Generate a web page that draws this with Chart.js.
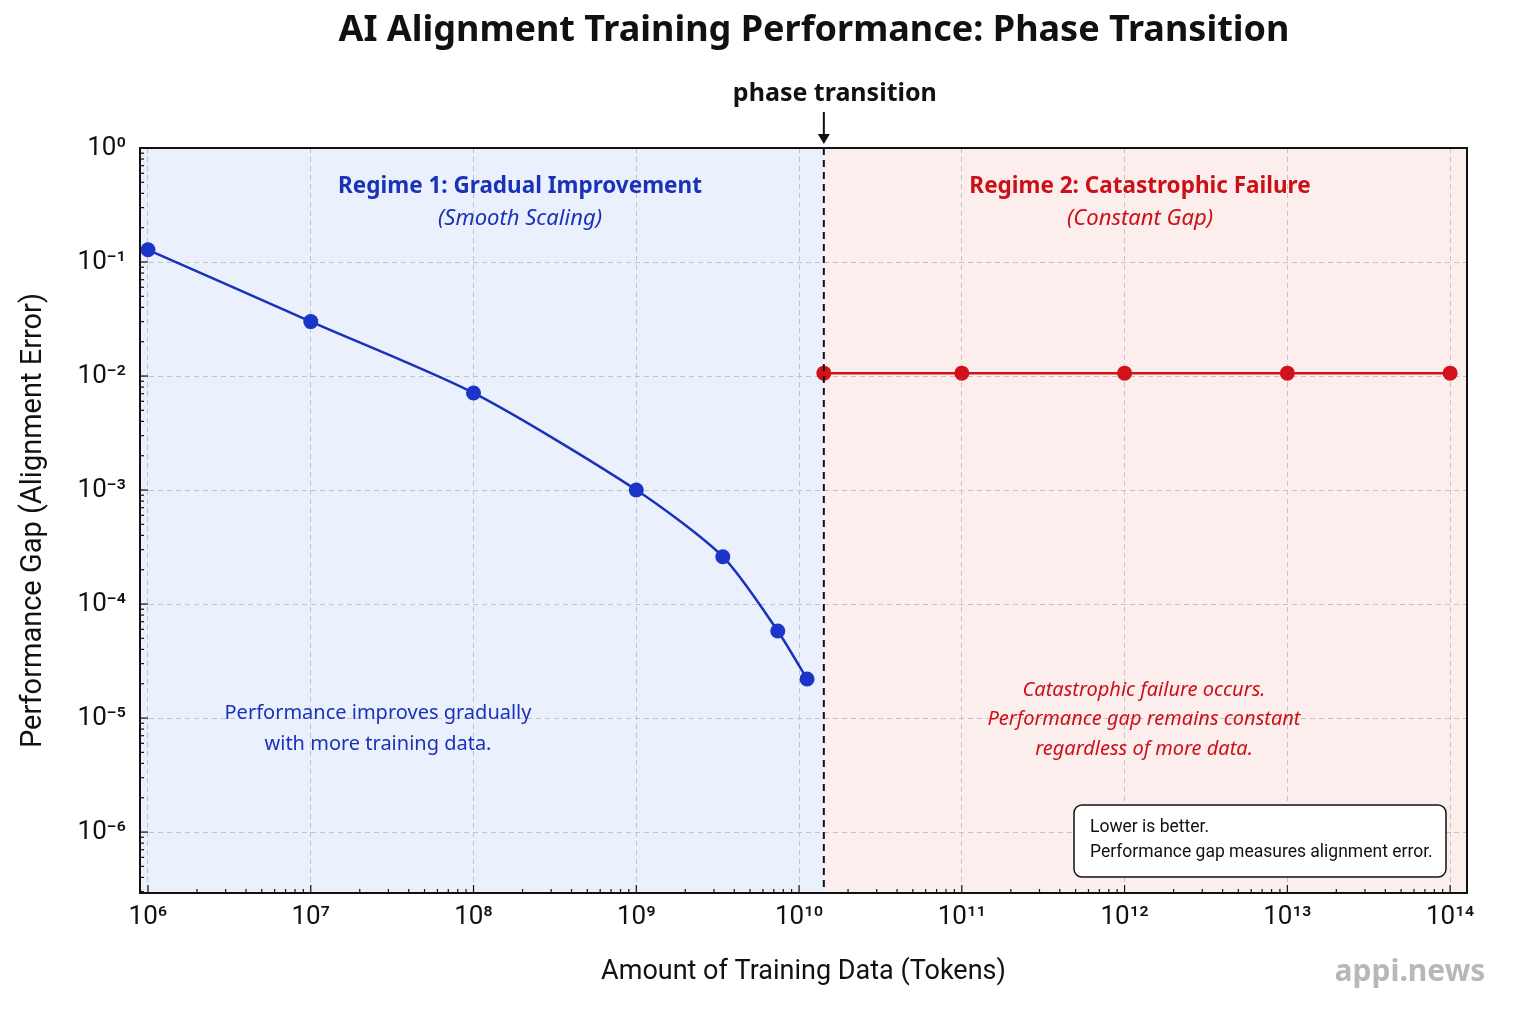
<!DOCTYPE html>
<html>
<head>
<meta charset="utf-8">
<title>AI Alignment Training Performance: Phase Transition</title>
<script src="https://cdn.jsdelivr.net/npm/chart.js@4.4.1/dist/chart.umd.min.js"></script>
<style>
    html, body { margin: 0; padding: 0; background: #ffffff; }
    #wrap { width: 1520px; height: 1013px; }
</style>
</head>
<body>
<div id="wrap"><canvas id="chart" width="1520" height="1013"></canvas></div>
<script>
// data
const regime1Tokens = [1e6, 1e7, 1e8, 1e9, 3.4e9, 7.4e9, 1.12e10];
const regime1Gap = [0.128, 0.030, 0.0071, 0.001, 2.6e-4, 5.8e-5, 2.2e-5];
const regime2Tokens = [1.42e10, 1e11, 1e12, 1e13, 1e14];
const regime2Gap = [0.0106, 0.0106, 0.0106, 0.0106, 0.0106];
const transitionTokens = 1.42e10;

const xTickValues = [1e6, 1e7, 1e8, 1e9, 1e10, 1e11, 1e12, 1e13, 1e14];
const yTickValues = [1e-6, 1e-5, 1e-4, 1e-3, 1e-2, 1e-1, 1e0];

const BLUE = '#1a32b8';
const RED = '#cc1017';
const FONT = 'Roboto, "Noto Sans", sans-serif';
const TEXT_FONT = '"Noto Sans", Roboto, sans-serif';

function superscript(n) {
    const digits = '⁰¹²³⁴⁵⁶⁷⁸⁹';
    return String(n).split('').map(c => c === '-' ? '⁻' : digits[+c]).join('');
}

function powerLabel(v) {
    return '10' + superscript(Math.round(Math.log10(v)));
}

// background regions, box border, inward ticks and annotations
const decorations = {
    id: 'decorations',
    beforeDraw(chart) {
        const { ctx, chartArea: a, scales: { x } } = chart;
        const tx = x.getPixelForValue(transitionTokens);
        ctx.save();
        ctx.fillStyle = '#eaf1fd';
        ctx.fillRect(a.left, a.top, tx - a.left, a.bottom - a.top);
        ctx.fillStyle = '#fdeeee';
        ctx.fillRect(tx, a.top, a.right - tx, a.bottom - a.top);
        ctx.restore();
    },
    afterDraw(chart) {
        const { ctx, chartArea: a, scales: { x, y } } = chart;
        const tx = x.getPixelForValue(transitionTokens);
        ctx.save();

        // transition line
        ctx.strokeStyle = '#111';
        ctx.lineWidth = 2;
        ctx.setLineDash([7, 5]);
        ctx.beginPath();
        ctx.moveTo(tx, a.top);
        ctx.lineTo(tx, a.bottom);
        ctx.stroke();
        ctx.setLineDash([]);

        // frame
        ctx.strokeStyle = '#111';
        ctx.lineWidth = 2;
        ctx.strokeRect(a.left, a.top, a.right - a.left, a.bottom - a.top);

        // inward log ticks
        ctx.lineWidth = 1.2;
        for (let e = 5; e <= 14; e++) {
            for (let m = 1; m <= 9; m++) {
                const v = m * Math.pow(10, e);
                if (v < x.min || v > x.max) continue;
                const px = x.getPixelForValue(v);
                const len = m === 1 ? 8 : 4;
                ctx.beginPath();
                ctx.moveTo(px, a.bottom);
                ctx.lineTo(px, a.bottom - len);
                ctx.stroke();
            }
        }
        for (let e = -7; e <= 0; e++) {
            for (let m = 1; m <= 9; m++) {
                const v = m * Math.pow(10, e);
                if (v < y.min || v > y.max) continue;
                const py = y.getPixelForValue(v);
                const len = m === 1 ? 8 : 4;
                ctx.beginPath();
                ctx.moveTo(a.left, py);
                ctx.lineTo(a.left + len, py);
                ctx.stroke();
            }
        }

        // main title
        ctx.fillStyle = '#111';
        ctx.textAlign = 'center';
        ctx.textBaseline = 'middle';
        ctx.font = 'bold 36px ' + TEXT_FONT;
        ctx.fillText('AI Alignment Training Performance: Phase Transition', 814, 31);

        // phase transition marker
        ctx.font = 'bold 25px ' + TEXT_FONT;
        ctx.fillText('phase transition', tx + 11, 94);
        ctx.lineWidth = 2;
        ctx.beginPath();
        ctx.moveTo(tx, 112);
        ctx.lineTo(tx, a.top - 8);
        ctx.stroke();
        ctx.beginPath();
        ctx.moveTo(tx - 6, a.top - 14);
        ctx.lineTo(tx, a.top - 4);
        ctx.lineTo(tx + 6, a.top - 14);
        ctx.closePath();
        ctx.fill();

        // regime labels
        ctx.fillStyle = BLUE;
        ctx.font = 'bold 22.5px ' + TEXT_FONT;
        ctx.fillText('Regime 1: Gradual Improvement', 520, 187);
        ctx.font = 'italic 22px ' + TEXT_FONT;
        ctx.fillText('(Smooth Scaling)', 520, 219);
        ctx.font = '20px ' + TEXT_FONT;
        ctx.fillText('Performance improves gradually', 378, 713);
        ctx.fillText('with more training data.', 378, 744);

        ctx.fillStyle = RED;
        ctx.font = 'bold 22.5px ' + TEXT_FONT;
        ctx.fillText('Regime 2: Catastrophic Failure', 1140, 187);
        ctx.font = 'italic 22px ' + TEXT_FONT;
        ctx.fillText('(Constant Gap)', 1140, 219);
        ctx.font = 'italic 20px ' + TEXT_FONT;
        ctx.fillText('Catastrophic failure occurs.', 1144, 690);
        ctx.fillText('Performance gap remains constant', 1144, 719);
        ctx.fillText('regardless of more data.', 1144, 749);

        // note box
        ctx.fillStyle = '#ffffff';
        ctx.strokeStyle = '#111';
        ctx.lineWidth = 1.5;
        ctx.beginPath();
        ctx.roundRect(1074, 805, 372, 72, 8);
        ctx.fill();
        ctx.stroke();
        ctx.fillStyle = '#111';
        ctx.textAlign = 'left';
        ctx.font = '17.5px ' + FONT;
        ctx.fillText('Lower is better.', 1090, 828);
        ctx.fillText('Performance gap measures alignment error.', 1090, 853);

        // watermark
        ctx.textAlign = 'center';
        ctx.fillStyle = '#b8b8b8';
        ctx.font = 'bold 30px ' + TEXT_FONT;
        ctx.fillText('appi.news', 1410, 972);

        ctx.restore();
    }
};

const ctx = document.getElementById('chart').getContext('2d');
new Chart(ctx, {
    type: 'line',
    data: {
        datasets: [
            {
                label: 'Regime 1',
                data: regime1Tokens.map((t, i) => ({ x: t, y: regime1Gap[i] })),
                borderColor: BLUE,
                backgroundColor: '#1a36c8',
                borderWidth: 2.5,
                pointRadius: 7.5,
                pointBorderWidth: 0,
                tension: 0.25,
                fill: false
            },
            {
                label: 'Regime 2',
                data: regime2Tokens.map((t, i) => ({ x: t, y: regime2Gap[i] })),
                borderColor: '#d2111a',
                backgroundColor: '#d2111a',
                borderWidth: 2.5,
                pointRadius: 7.5,
                pointBorderWidth: 0,
                tension: 0,
                fill: false
            }
        ]
    },
    options: {
        responsive: false,
        animation: false,
        layout: { padding: { top: 148, left: 0, right: 53, bottom: 0 } },
        plugins: {
            legend: { display: false },
            tooltip: { enabled: false }
        },
        scales: {
            x: {
                type: 'logarithmic',
                min: 8.93e5,
                max: 1.27e14,
                afterBuildTicks: scale => { scale.ticks = xTickValues.map(v => ({ value: v })); },
                afterFit: scale => { scale.height = 120; },
                grid: { color: '#c4c4c4', lineWidth: 1, drawTicks: false },
                border: { display: false, dash: [5, 4] },
                ticks: {
                    autoSkip: false,
                    maxRotation: 0,
                    padding: 9,
                    color: '#111',
                    font: { family: FONT, size: 26 },
                    callback: v => powerLabel(v)
                },
                title: {
                    display: true,
                    text: 'Amount of Training Data (Tokens)',
                    color: '#111',
                    font: { family: FONT, size: 27 },
                    padding: { top: 0, bottom: 25 }
                }
            },
            y: {
                type: 'logarithmic',
                min: 2.92e-7,
                max: 1,
                afterBuildTicks: scale => { scale.ticks = yTickValues.map(v => ({ value: v })); },
                afterFit: scale => { scale.width = 140; },
                grid: { color: '#c4c4c4', lineWidth: 1, drawTicks: false },
                border: { display: false, dash: [5, 4] },
                ticks: {
                    autoSkip: false,
                    padding: 14,
                    color: '#111',
                    font: { family: FONT, size: 26 },
                    callback: v => powerLabel(v)
                },
                title: {
                    display: true,
                    text: 'Performance Gap (Alignment Error)',
                    color: '#111',
                    font: { family: FONT, size: 29 },
                    padding: { top: 16, bottom: 0 }
                }
            }
        }
    },
    plugins: [decorations]
});
</script>
</body>
</html>
